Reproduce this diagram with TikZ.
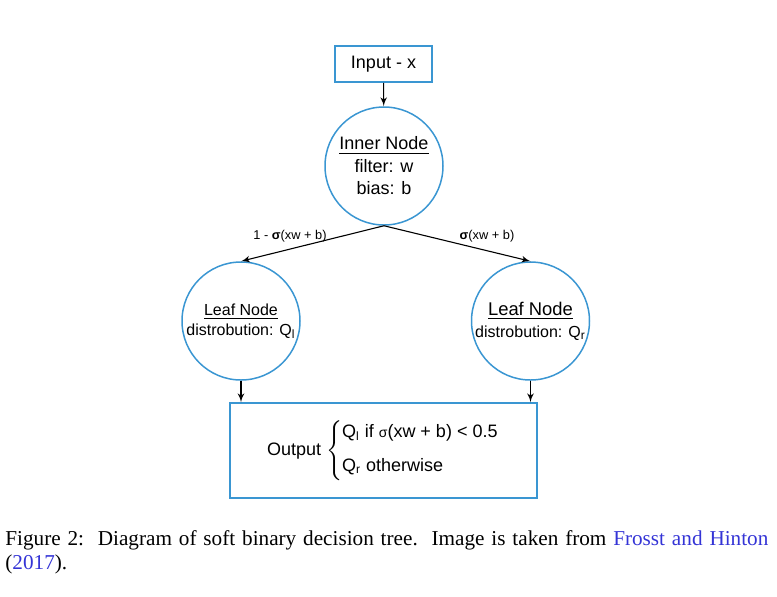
\documentclass[tikz,border=0pt]{standalone}
\usepackage{fontspec}
\setmainfont{Liberation Serif}
\newfontfamily\diagfont{Liberation Sans}
\usepackage{tikz}
\usetikzlibrary{arrows}
\definecolor{nodeblue}{RGB}{58,150,210}
\definecolor{linkblue}{RGB}{52,52,214}

\begin{document}
\begin{tikzpicture}[x=0.5pt, y=-0.5pt]
      \tikzset{box/.style = {shape=rectangle,draw=nodeblue,line width=0.75pt,inner sep=0pt,font=\diagfont}}
      \tikzset{vertex/.style = {shape=circle,draw=nodeblue,line width=0.75pt,minimum size=59pt,inner sep=0pt,align=center,font=\diagfont}}
      \tikzset{edge/.style = {->,> = latex',line width=0.55pt}}
      \tikzset{elabel/.style = {font=\diagfont\fontsize{6.4}{8}\selectfont}}
      \useasboundingbox (0,0) rectangle (777,596);
      \node[box,minimum width=48.5pt,minimum height=18pt,font=\diagfont\fontsize{9}{11}\selectfont] (input) at (383.5,64) {Input - x};
      \node[vertex,font=\diagfont\fontsize{9}{11.25}\selectfont] (inner) at (384,166) {\underline{Inner Node}\\filter: w\\bias: b};
      \node[vertex,font=\diagfont\fontsize{8}{10}\selectfont] (leafl) at (241,321) {\underline{Leaf Node}\\distrobution: Q\textsubscript{l}};
      \node[vertex,font=\diagfont\fontsize{8}{11}\selectfont] (leafr) at (530.5,321) {{\fontsize{9.2}{11}\selectfont\underline{Leaf Node}}\\distrobution: Q\textsubscript{r}};
      \node[box,minimum width=153.5pt,minimum height=47.5pt,font=\diagfont\fontsize{9}{11}\selectfont] (output) at (383.5,450.5)
        {Output $\left\{\begin{tabular}{@{}l@{}}Q\textsubscript{l} if {\fontsize{7}{9}\selectfont σ}(xw + b) < 0.5\\[6pt]Q\textsubscript{r} otherwise\end{tabular}\right.$};
      \coordinate (outl) at (leafl.south |- output.north);
      \coordinate (outr) at (leafr.south |- output.north);
      \draw[edge] (input) to (inner);
      \draw[edge] (inner.south) to (leafl.north);
      \draw[edge] (inner.south) to (leafr.north);
      \draw[edge] (leafl) to (outl);
      \draw[edge] (leafr) to (outr);
      \node[elabel] (lbll) at (290,236) {1 - {\bfseries σ}(xw + b)};
      \node[elabel] (lblr) at (487,236) {{\bfseries σ}(xw + b)};
      % caption
      \node[anchor=north west,inner sep=0pt,text width=381.5pt,align=justify,font=\fontsize{10.6}{12}\selectfont] (caption) at (5,530)
        {Figure 2:\ \ Diagram of soft binary decision tree.\ \ Image is taken from \textcolor{linkblue}{Frosst and Hinton}\linebreak (\textcolor{linkblue}{2017}).};
    \end{tikzpicture}
\end{document}
